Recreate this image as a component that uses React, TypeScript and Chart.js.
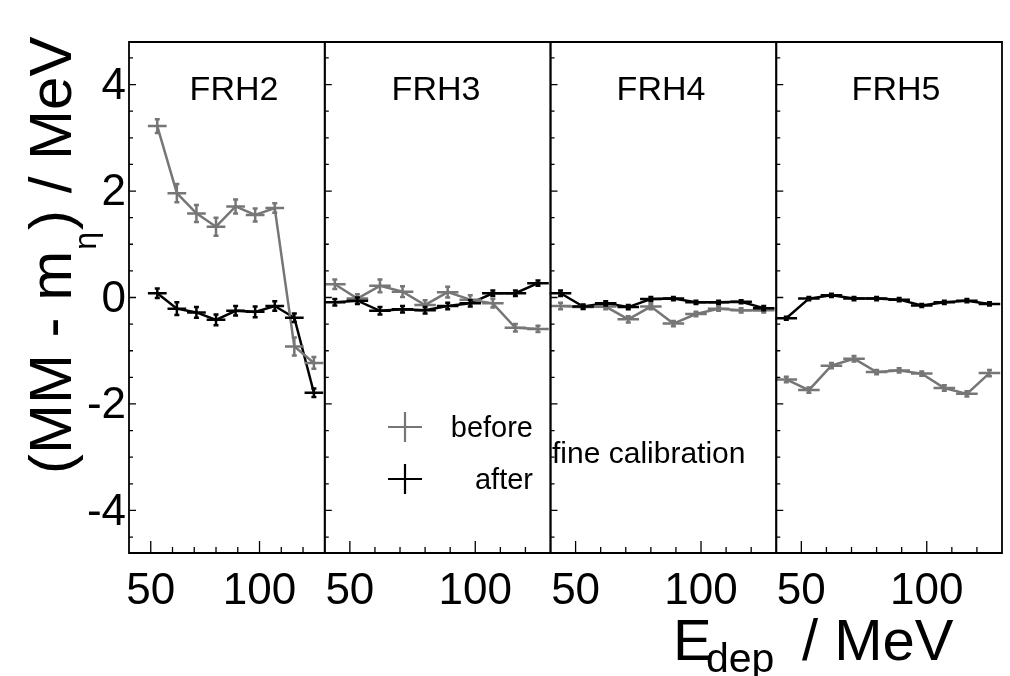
import React, { useEffect, useRef } from "react";
import { Chart, registerables } from "chart.js";

Chart.register(...registerables);

// ---------- data ----------
const panelNames = ["FRH2", "FRH3", "FRH4", "FRH5"];
const panelAxes = ["x1", "x2", "x3", "x4"];
const panelWeights = [196, 226, 226, 226];

const energyFRH2 = [53, 62, 71, 80, 89, 98, 107, 116, 125];
const energyFRH = [44, 53, 62, 71, 80, 89, 98, 107, 116, 125];
const energyHalfWidth = 4.3;

const frh2Before = [3.22, 1.96, 1.58, 1.33, 1.71, 1.55, 1.68, -0.92, -1.23];
const frh2BeforeErr = [0.13, 0.17, 0.16, 0.17, 0.13, 0.12, 0.09, 0.17, 0.11];
const frh2After = [0.08, -0.21, -0.28, -0.42, -0.25, -0.27, -0.16, -0.38, -1.79];
const frh2AfterErr = [0.09, 0.12, 0.1, 0.1, 0.09, 0.1, 0.09, 0.08, 0.08];

const frh3Before = [0.25, -0.02, 0.22, 0.11, -0.14, 0.1, -0.04, -0.11, -0.57, -0.59];
const frh3BeforeErr = [0.09, 0.08, 0.12, 0.1, 0.09, 0.1, 0.08, 0.08, 0.07, 0.06];
const frh3After = [-0.09, -0.06, -0.25, -0.22, -0.24, -0.16, -0.11, 0.08, 0.08, 0.27];
const frh3AfterErr = [0.06, 0.06, 0.07, 0.06, 0.06, 0.06, 0.06, 0.05, 0.05, 0.05];

const frh4Before = [-0.16, -0.18, -0.17, -0.41, -0.17, -0.49, -0.31, -0.21, -0.24, -0.24];
const frh4BeforeErr = [0.06, 0.04, 0.05, 0.06, 0.05, 0.05, 0.04, 0.04, 0.04, 0.04];
const frh4After = [0.08, -0.17, -0.11, -0.18, -0.03, -0.02, -0.09, -0.09, -0.08, -0.2];
const frh4AfterErr = [0.05, 0.04, 0.04, 0.04, 0.04, 0.03, 0.03, 0.03, 0.03, 0.04];

const frh5Before = [-1.54, -1.74, -1.28, -1.15, -1.4, -1.37, -1.43, -1.7, -1.81, -1.42];
const frh5BeforeErr = [0.05, 0.05, 0.05, 0.05, 0.04, 0.04, 0.04, 0.05, 0.05, 0.06];
const frh5After = [-0.39, -0.02, 0.04, -0.02, -0.02, -0.04, -0.15, -0.09, -0.06, -0.12];
const frh5AfterErr = [0.03, 0.03, 0.03, 0.03, 0.03, 0.03, 0.03, 0.03, 0.03, 0.03];

const xTickLabels = [50, 100];
const xMinorTicks = [60, 70, 80, 90, 110, 120];
const yTickLabels = [-4, -2, 0, 2, 4];
const yMinorTicks = [-4.5, -3.5, -3, -2.5, -1.5, -1, -0.5, 0.5, 1, 1.5, 2.5, 3, 3.5, 4.5];

const legendLabels = ["before", "after"];
const annotationText = "fine calibration";

const GRAY = "#767676";
const BLACK = "#000000";
const FONT = "'Liberation Sans', Arial, Helvetica, sans-serif";

type Series = { axis: string; xs: number[]; ys: number[]; errs: number[]; color: string };

const series: Series[] = [
  { axis: "x1", xs: energyFRH2, ys: frh2Before, errs: frh2BeforeErr, color: GRAY },
  { axis: "x1", xs: energyFRH2, ys: frh2After, errs: frh2AfterErr, color: BLACK },
  { axis: "x2", xs: energyFRH, ys: frh3Before, errs: frh3BeforeErr, color: GRAY },
  { axis: "x2", xs: energyFRH, ys: frh3After, errs: frh3AfterErr, color: BLACK },
  { axis: "x3", xs: energyFRH, ys: frh4Before, errs: frh4BeforeErr, color: GRAY },
  { axis: "x3", xs: energyFRH, ys: frh4After, errs: frh4AfterErr, color: BLACK },
  { axis: "x4", xs: energyFRH, ys: frh5Before, errs: frh5BeforeErr, color: GRAY },
  { axis: "x4", xs: energyFRH, ys: frh5After, errs: frh5AfterErr, color: BLACK },
];

const decorPlugin = {
  id: "decor",
  afterDatasetsDraw(chart: any) {
    const ctx = chart.ctx;
    const y = chart.scales.y;
    ctx.save();
    ctx.lineCap = "butt";
    series.forEach((s) => {
      const xs = chart.scales[s.axis];
      ctx.strokeStyle = s.color;
      ctx.lineWidth = 2.5;
      s.xs.forEach((xv, i) => {
        const px = xs.getPixelForValue(xv);
        const py = y.getPixelForValue(s.ys[i]);
        const x0 = xs.getPixelForValue(xv - energyHalfWidth);
        const x1 = xs.getPixelForValue(xv + energyHalfWidth);
        const y0 = y.getPixelForValue(s.ys[i] - s.errs[i]);
        const y1 = y.getPixelForValue(s.ys[i] + s.errs[i]);
        ctx.beginPath();
        ctx.moveTo(x0, py);
        ctx.lineTo(x1, py);
        ctx.moveTo(px, y0);
        ctx.lineTo(px, y1);
        ctx.moveTo(px - 2.5, y0);
        ctx.lineTo(px + 2.5, y0);
        ctx.moveTo(px - 2.5, y1);
        ctx.lineTo(px + 2.5, y1);
        ctx.stroke();
      });
    });
    ctx.restore();
  },
  afterDraw(chart: any) {
    const ctx = chart.ctx;
    const area = chart.chartArea;
    const y = chart.scales.y;
    ctx.save();
    ctx.strokeStyle = "#000";
    // frames and ticks
    panelAxes.forEach((id, k) => {
      const xs = chart.scales[id];
      ctx.lineWidth = 1.8;
      ctx.beginPath();
      ctx.rect(xs.left, area.top, xs.right - xs.left, area.bottom - area.top);
      ctx.stroke();
      ctx.lineWidth = 1.3;
      ctx.beginPath();
      xTickLabels.forEach((v) => {
        const p = xs.getPixelForValue(v);
        ctx.moveTo(p, area.bottom);
        ctx.lineTo(p, area.bottom - 12);
      });
      xMinorTicks.forEach((v) => {
        const p = xs.getPixelForValue(v);
        ctx.moveTo(p, area.bottom);
        ctx.lineTo(p, area.bottom - 6);
      });
      yTickLabels.forEach((v) => {
        const p = y.getPixelForValue(v);
        ctx.moveTo(xs.left, p);
        ctx.lineTo(xs.left + 7, p);
      });
      yMinorTicks.forEach((v) => {
        const p = y.getPixelForValue(v);
        ctx.moveTo(xs.left, p);
        ctx.lineTo(xs.left + 4, p);
      });
      ctx.stroke();
      // panel name
      ctx.fillStyle = "#000";
      ctx.font = `34px ${FONT}`;
      ctx.textAlign = "center";
      ctx.textBaseline = "alphabetic";
      const centers = [234, 436, 661, 896];
      ctx.fillText(panelNames[k], centers[k], 100);
    });

    // legend
    const legendColors = [GRAY, BLACK];
    const legendY = [427, 479];
    legendLabels.forEach((lab, i) => {
      ctx.strokeStyle = legendColors[i];
      ctx.lineWidth = 2.2;
      ctx.beginPath();
      ctx.moveTo(388, legendY[i]);
      ctx.lineTo(422, legendY[i]);
      ctx.moveTo(405, legendY[i] - 15);
      ctx.lineTo(405, legendY[i] + 15);
      ctx.stroke();
      ctx.fillStyle = "#000";
      ctx.font = `29px ${FONT}`;
      ctx.textAlign = "right";
      ctx.textBaseline = "alphabetic";
      ctx.fillText(lab, 533, legendY[i] + 10);
    });

    ctx.font = `30px ${FONT}`;
    ctx.textAlign = "left";
    ctx.fillText(annotationText, 552, 463);

    // x title
    ctx.font = `58px ${FONT}`;
    ctx.textAlign = "left";
    ctx.fillText("E", 673, 660);
    ctx.font = `41px ${FONT}`;
    ctx.fillText("dep", 706, 672);
    ctx.font = `58px ${FONT}`;
    ctx.fillText("/ MeV", 802, 660);

    // y title
    ctx.save();
    ctx.translate(71, 474);
    ctx.rotate(-Math.PI / 2);
    ctx.font = `60px ${FONT}`;
    ctx.textAlign = "left";
    ctx.textBaseline = "alphabetic";
    const part1 = "(MM - m";
    ctx.fillText(part1, 0, 0);
    let w = ctx.measureText(part1).width;
    ctx.font = `32px ${FONT}`;
    ctx.fillText("η", w + 1, 25);
    w += ctx.measureText("η").width + 3;
    ctx.font = `60px ${FONT}`;
    ctx.fillText(") / MeV", w, 0);
    ctx.restore();

    ctx.restore();
  },
};

export default function App() {
  const ref = useRef<HTMLCanvasElement | null>(null);
  useEffect(() => {
    if (!ref.current) return;
    const scales: any = {
      y: {
        type: "linear",
        position: "left",
        min: -4.8,
        max: 4.8,
        grid: { display: false, drawTicks: false },
        border: { display: false },
        ticks: {
          font: { family: FONT, size: 44 },
          color: "#000",
          padding: 3,
          labelOffset: 2,
        },
        afterBuildTicks: (s: any) => {
          s.ticks = yTickLabels.map((v) => ({ value: v }));
        },
        afterFit: (s: any) => {
          s.width = 129;
          s.paddingTop = 0;
          s.paddingBottom = 0;
        },
      },
    };
    panelAxes.forEach((id, k) => {
      scales[id] = {
        type: "linear",
        position: "bottom",
        stack: "energy",
        stackWeight: panelWeights[k],
        min: 40,
        max: 130,
        grid: { display: false, drawTicks: false },
        border: { display: false },
        ticks: {
          font: { family: FONT, size: 44 },
          color: "#000",
          padding: 12,
          autoSkip: false,
          maxRotation: 0,
          minRotation: 0,
        },
        afterBuildTicks: (s: any) => {
          s.ticks = xTickLabels.map((v) => ({ value: v }));
        },
        afterFit: (s: any) => {
          s.height = 123;
          s.paddingLeft = 0;
          s.paddingRight = 0;
        },
      };
    });
    const chart = new Chart(ref.current, {
      type: "scatter",
      data: {
        datasets: series.map((s) => ({
          data: s.xs.map((x, i) => ({ x, y: s.ys[i] })),
          xAxisID: s.axis,
          yAxisID: "y",
          showLine: true,
          borderColor: s.color,
          backgroundColor: s.color,
          borderWidth: 2.5,
          pointRadius: 0,
          pointHoverRadius: 0,
          fill: false,
          tension: 0,
        })),
      },
      options: {
        responsive: false,
        animation: false,
        devicePixelRatio: 1,
        layout: { padding: { top: 42, right: 8, bottom: 0, left: 0 } },
        plugins: { legend: { display: false }, tooltip: { enabled: false } },
        scales,
      } as any,
      plugins: [decorPlugin],
    });
    return () => chart.destroy();
  }, []);
  return (
    <div style={{ position: "absolute", left: 0, top: 0, width: 1010, height: 676, background: "#fff" }}>
      <canvas ref={ref} width={1010} height={676} style={{ display: "block" }} />
    </div>
  );
}
